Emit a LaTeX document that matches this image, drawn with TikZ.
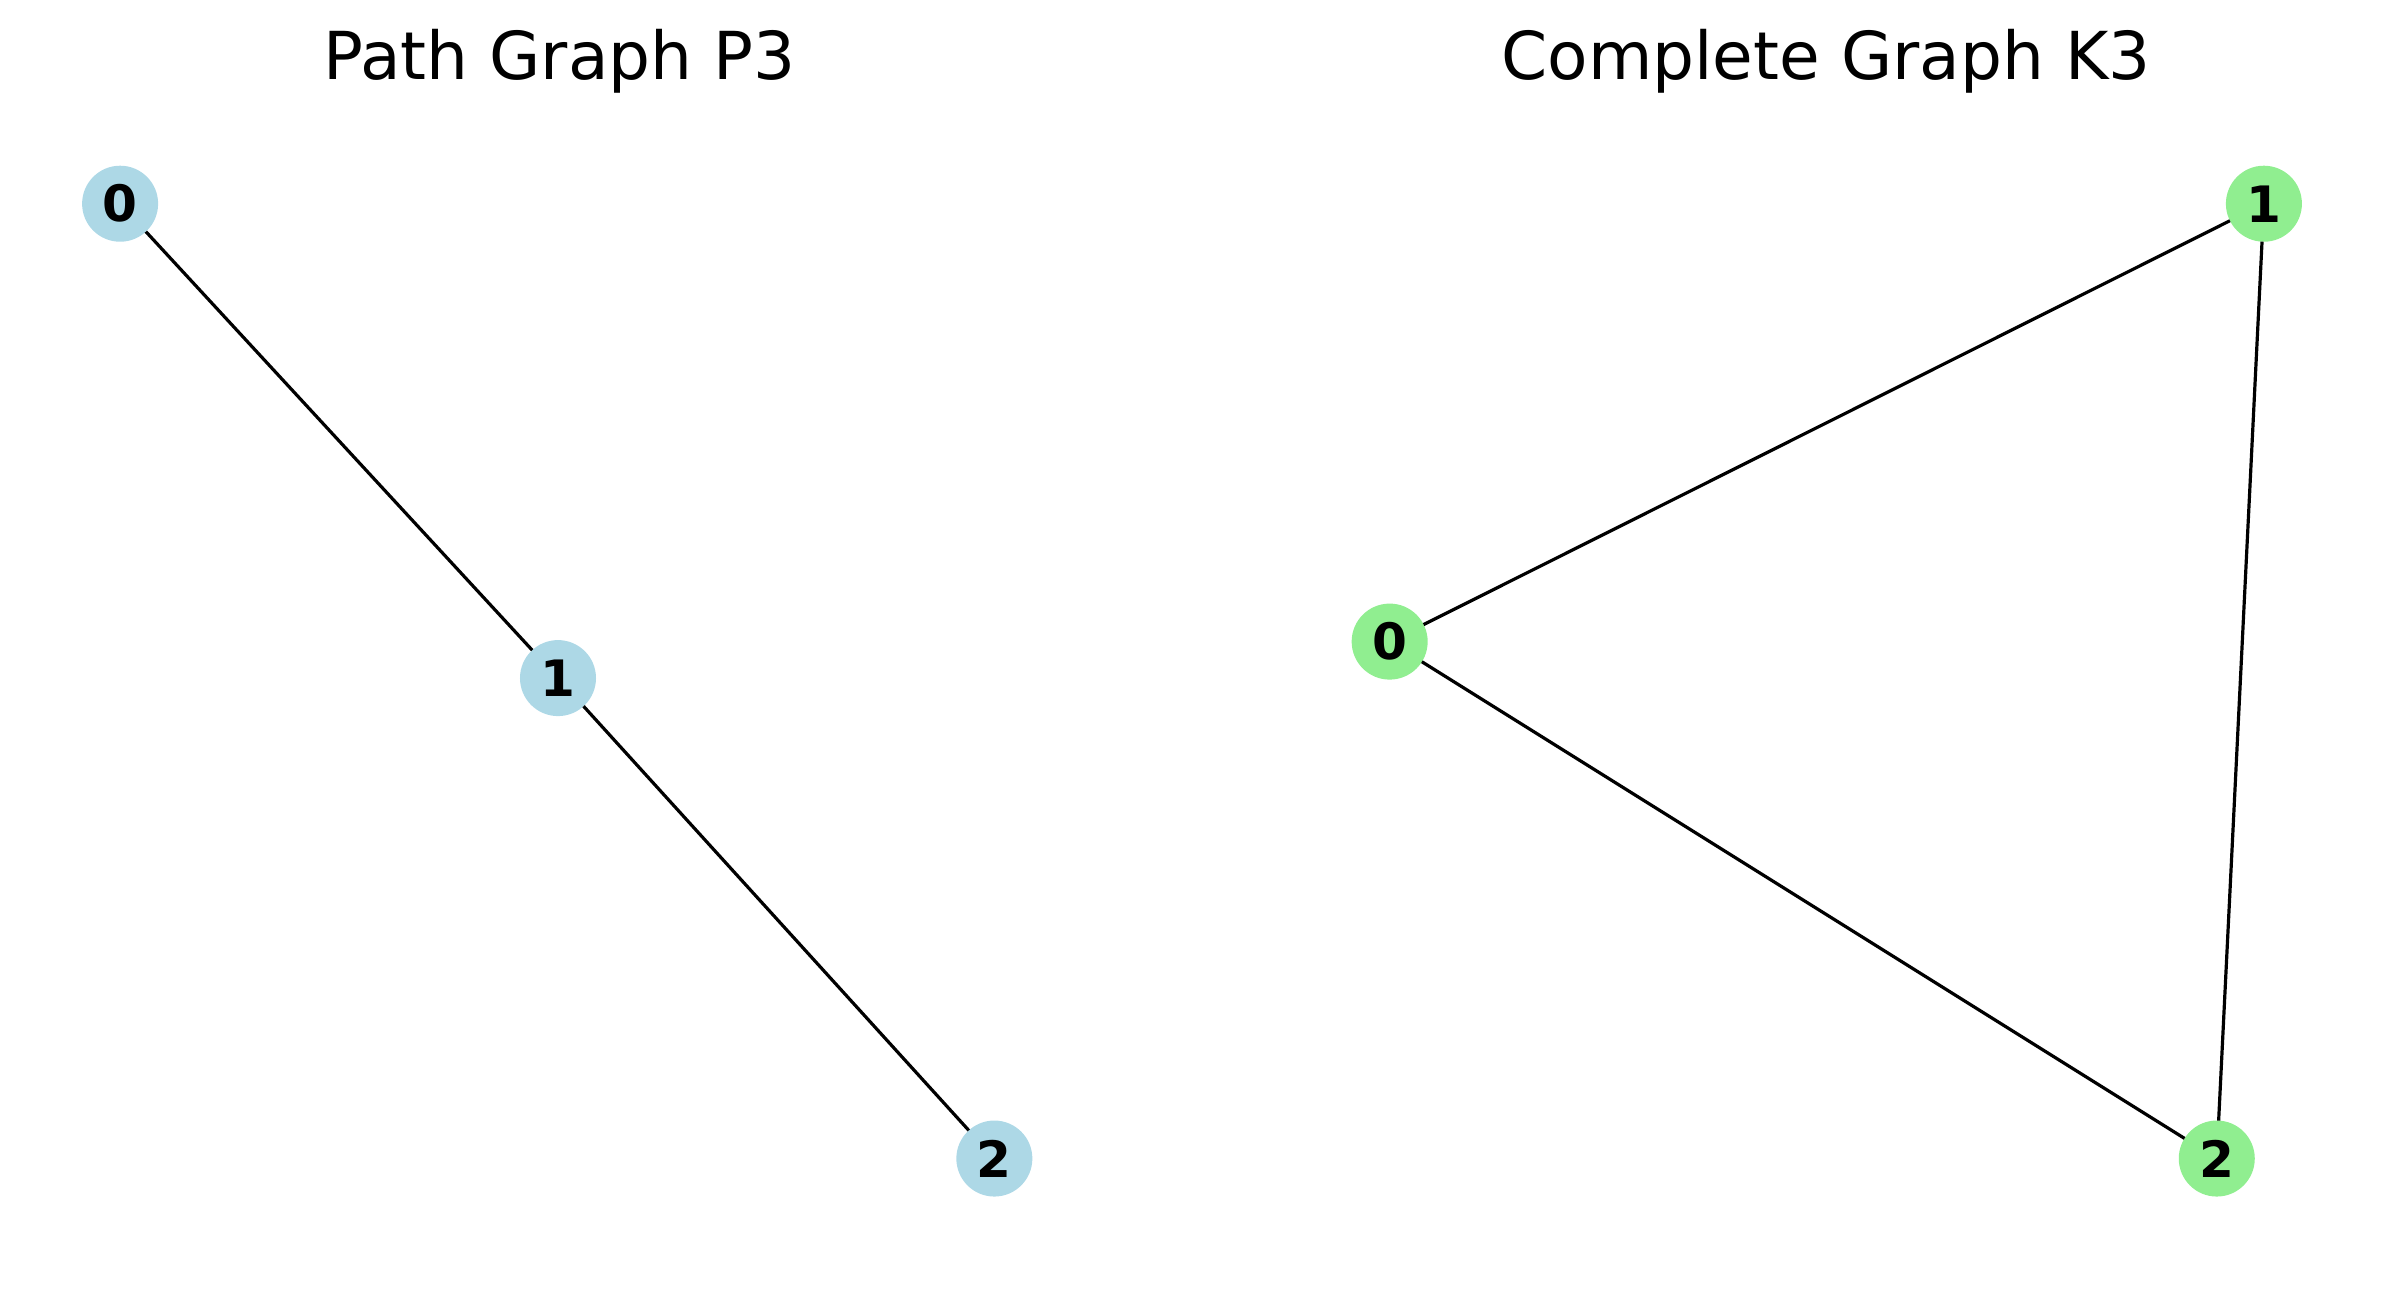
\documentclass[tikz,border=0pt]{standalone}
\usepackage{fontspec}
\setmainfont{DejaVu Sans}
\begin{document}
\begin{tikzpicture}[x=1pt, y=1pt,
  pnode/.style={circle, minimum size=50pt, inner sep=0pt, outer sep=0pt, fill={rgb,255:red,173;green,216;blue,230}, font=\fontsize{33}{33}\selectfont\bfseries},
  knode/.style={circle, minimum size=50pt, inner sep=0pt, outer sep=0pt, fill={rgb,255:red,144;green,238;blue,144}, font=\fontsize{33}{33}\selectfont\bfseries},
  edge/.style={line width=2.1pt},
  ttl/.style={anchor=base, inner sep=0pt, font=\fontsize{43.5}{43.5}\selectfont}]
\useasboundingbox (0,0) rectangle (1568,848);
\node[ttl] (ptitle) at (368,795.5){Path Graph P3};
\node[ttl] (ktitle) at (1201,795.5){Complete Graph K3};
\node[pnode] (p0) at (79,714){0};
\node[pnode] (p1) at (367,402){1};
\node[pnode] (p2) at (654,86){2};
\draw[edge](p0) -- (p1);
\draw[edge](p1) -- (p2);
\node[knode] (k0) at (914,426){0};
\node[knode] (k1) at (1489,714){1};
\node[knode] (k2) at (1458,86){2};
\draw[edge](k0) -- (k1);
\draw[edge](k0) -- (k2);
\draw[edge](k1) -- (k2);
\end{tikzpicture}
\end{document}
